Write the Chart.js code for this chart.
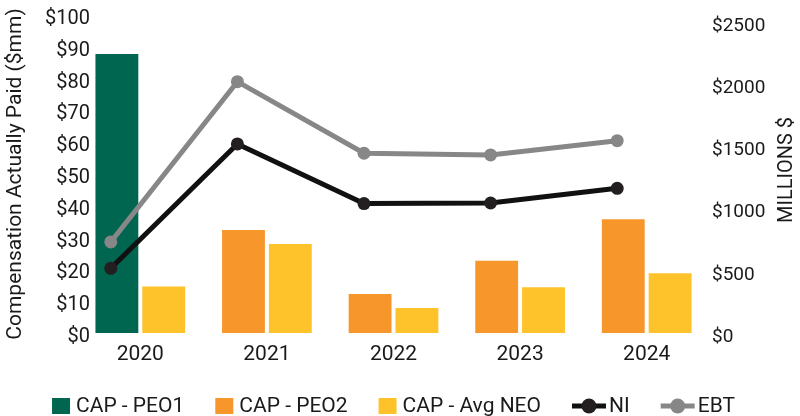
<!DOCTYPE html>
<html>
<head>
<meta charset="utf-8">
<script src="https://cdn.jsdelivr.net/npm/chart.js@4.4.1/dist/chart.umd.min.js"></script>
<style>
  html, body { margin: 0; padding: 0; background: #fff; }
  #wrap { position: relative; width: 800px; height: 416px; }
</style>
</head>
<body>
<div id="wrap"><canvas id="canvas"></canvas></div>
<script>
// values
var years = ['2020', '2021', '2022', '2023', '2024'];
var capPeo1 = [87.7, null, null, null, null];
var capPeo2 = [null, 32.4, 12.3, 22.7, 35.8];
var capAvgNeo = [14.6, 28.0, 7.9, 14.4, 18.8];
var netIncome = [520, 1520, 1040, 1045, 1163];
var ebt = [732, 2020, 1445, 1431, 1546];
var rightTicks = [0, 500, 1000, 1500, 2000, 2500];

var TEXT = '#1a1a1a';
var LINE_SHIFT = 0.233; // lines sit left of the category centre, as in the original
Chart.defaults.font.family = 'Roboto, "DejaVu Sans", sans-serif';
Chart.defaults.color = TEXT;

// move the line points a fraction of a category to the left
var shiftLines = {
  id: 'shiftLines',
  afterDatasetsUpdate: function (chart) {
    var x = chart.scales.x;
    var step = x.getPixelForValue(1) - x.getPixelForValue(0);
    chart.data.datasets.forEach(function (ds, i) {
      if (ds.type !== 'line') return;
      chart.getDatasetMeta(i).data.forEach(function (pt) { pt.x -= step * LINE_SHIFT; });
    });
  }
};

// right axis title (reads bottom to top) and the legend row
var extras = {
  id: 'extras',
  afterDraw: function (chart) {
    var ctx = chart.ctx;
    ctx.save();
    ctx.fillStyle = TEXT;
    ctx.font = '20px Roboto';
    ctx.textAlign = 'center';
    ctx.textBaseline = 'middle';
    ctx.translate(787, 170);
    ctx.rotate(-Math.PI / 2);
    ctx.fillText('MILLIONS $', 0, 0);
    ctx.restore();

    ctx.save();
    ctx.font = '21px Roboto';
    ctx.textBaseline = 'middle';
    var items = chart.data.datasets.map(function (ds) {
      var isLine = ds.type === 'line';
      return {
        text: ds.label,
        line: isLine,
        color: isLine ? ds.borderColor : ds.backgroundColor,
        dot: isLine ? ds.pointBackgroundColor : null,
        sym: isLine ? 34 : 18,
        gap: isLine ? 3 : 6,
        w: ctx.measureText(ds.label).width
      };
    });
    var spacing = 31;
    var total = items.reduce(function (s, it) { return s + it.sym + it.gap + it.w; }, 0) + spacing * (items.length - 1);
    var x = (chart.chartArea.left + chart.chartArea.right) / 2 - total / 2;
    var y = 406;
    items.forEach(function (it) {
      if (it.line) {
        ctx.strokeStyle = it.color;
        ctx.lineWidth = 5;
        ctx.beginPath();
        ctx.moveTo(x, y);
        ctx.lineTo(x + it.sym, y);
        ctx.stroke();
        ctx.fillStyle = it.dot;
        ctx.beginPath();
        ctx.arc(x + it.sym / 2, y, 7.5, 0, Math.PI * 2);
        ctx.fill();
      } else {
        ctx.fillStyle = it.color;
        ctx.fillRect(x, y - 8, it.sym, 16);
      }
      x += it.sym + it.gap;
      ctx.fillStyle = TEXT;
      ctx.fillText(it.text, x, y + 1);
      x += it.w + spacing;
    });
    ctx.restore();
  }
};

var ctx = document.getElementById('canvas');
new Chart(ctx, {
  data: {
    labels: years,
    datasets: [
      { type: 'bar', label: 'CAP - PEO1', data: capPeo1, backgroundColor: '#00664f', skipNull: true, order: 2 },
      { type: 'bar', label: 'CAP - PEO2', data: capPeo2, backgroundColor: '#f7972b', skipNull: true, order: 2 },
      { type: 'bar', label: 'CAP - Avg NEO', data: capAvgNeo, backgroundColor: '#fec22b', skipNull: true, order: 2 },
      { type: 'line', label: 'NI', data: netIncome, yAxisID: 'y1',
        borderColor: '#111111', pointBackgroundColor: '#231f20', pointBorderWidth: 0,
        borderWidth: 5, pointRadius: 6.5, tension: 0, order: 1 },
      { type: 'line', label: 'EBT', data: ebt, yAxisID: 'y1',
        borderColor: '#878787', pointBackgroundColor: '#878787', pointBorderWidth: 0,
        borderWidth: 5, pointRadius: 6.5, tension: 0, order: 1 }
    ]
  },
  options: {
    responsive: true,
    maintainAspectRatio: false,
    animation: false,
    layout: { padding: { top: 15, left: 0, right: 0, bottom: 0 } },
    datasets: { bar: { categoryPercentage: 0.74, barPercentage: 0.915 } },
    plugins: {
      legend: { display: false },
      tooltip: { enabled: false }
    },
    scales: {
      x: {
        type: 'category',
        offset: true,
        grid: { display: false, drawTicks: false },
        border: { display: false },
        ticks: { font: { size: 21 }, padding: 9, color: TEXT },
        afterFit: function (scale) { scale.height = 83; }
      },
      y: {
        position: 'left',
        min: 0,
        max: 100,
        grid: { display: false, drawTicks: false },
        border: { display: false },
        ticks: { stepSize: 10, font: { size: 20 }, padding: -13, labelOffset: 4, color: TEXT,
          callback: function (v) { return '$' + v; } },
        title: { display: true, text: 'Compensation Actually Paid ($mm)', font: { size: 21 },
          padding: { top: 3, bottom: 0 }, color: TEXT },
        afterFit: function (scale) {
          scale.width = 77;
          // labels reach a little past the axis box, so don't clip them
          scale._computeLabelArea = function () { return undefined; };
        }
      },
      y1: {
        position: 'right',
        min: 0,
        max: 2556,
        grid: { display: false, drawTicks: false },
        border: { display: false },
        ticks: { font: { size: 19 }, padding: 2, labelOffset: 4, color: TEXT,
          callback: function (v) { return '$' + v; } },
        afterBuildTicks: function (scale) {
          scale.ticks = rightTicks.map(function (v) { return {value: v}; });
        },
        afterFit: function (scale) { scale.width = 90; }
      }
    }
  },
  plugins: [shiftLines, extras]
});
</script>
</body>
</html>
